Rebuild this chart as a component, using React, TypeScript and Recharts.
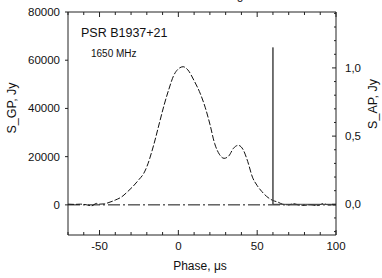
import React from 'react';
import { LineChart, Line, XAxis, YAxis, ReferenceLine } from 'recharts';

// giant pulse profile, phase in microseconds vs flux (Jy)
const gpPhase = [
  -70, -66, -62, -58, -55, -52, -50, -47, -44, -40, -36, -32, -29, -25, -22, -20,
  -16, -12, -9, -6, -3, 0, 3, 6, 10, 14, 17, 20, 23, 26, 29, 32, 35, 38, 41, 44,
  47, 50, 53, 56, 60, 63, 66, 70, 73, 76, 80, 84, 88, 92, 95, 100,
];
const gpFlux = [
  300, 200, 300, 0, -400, 600, 300, 400, 1000, 2000, 3300, 5600, 7500, 10500, 13000, 15800,
  24000, 34000, 41500, 48000, 53600, 56400, 57300, 56000, 51500, 46000, 40500, 33500, 25500, 21000, 19300, 20300, 23500, 24700, 23000, 18000,
  11500, 8000, 5500, 3500, 1800, 1200, 300, 0, 500, 0, -200, 100, -300, 500, 0, 0,
];

// average profile: narrow spike at 60 us, then flat
const apPhase = [60, 60, 60, 100];
const apFlux = [0, 1.15, 0, 0];

const phaseTicks = [-70, -60, -50, -40, -30, -20, -10, 0, 10, 20, 30, 40, 50, 60, 70, 80, 90, 100];
const phaseLabels = [-50, 0, 50, 100];
const gpTicks = [0, 20000, 40000, 60000, 80000];
const apTicks = [-0.2, -0.1, 0, 0.1, 0.2, 0.3, 0.4, 0.5, 0.6, 0.7, 0.8, 0.9, 1.0, 1.1, 1.2, 1.3, 1.4];
const apLabels = [0, 0.5, 1.0];

const gpData = gpPhase.map((p, i) => ({ phase: p, gp: gpFlux[i] }));
const apData = apPhase.map((p, i) => ({ phase: p, ap: apFlux[i] }));

const AXIS = '#222';
const FONT = '"Liberation Sans", Arial, sans-serif';

const BottomTick = (props: any) => {
  const { x, y, payload } = props;
  const major = phaseLabels.includes(payload.value);
  return (
    <g>
      <line x1={x} x2={x} y1={y} y2={y - (major ? 5 : 3)} stroke={AXIS} />
      {major && (
        <text x={x} y={y + 15} textAnchor="middle" fontSize={11.5} fontFamily={FONT} fill="#111">
          {payload.value}
        </text>
      )}
    </g>
  );
};

const TopTick = (props: any) => {
  const { x, y, payload } = props;
  const major = phaseLabels.includes(payload.value);
  return <line x1={x} x2={x} y1={y} y2={y + (major ? 5 : 3)} stroke={AXIS} />;
};

const LeftTick = (props: any) => {
  const { x, y, payload } = props;
  return (
    <g>
      <line x1={x} x2={x - 3} y1={y} y2={y} stroke={AXIS} />
      <text x={x - 8} y={y + 4} textAnchor="end" fontSize={11.5} fontFamily={FONT} fill="#111">
        {payload.value}
      </text>
    </g>
  );
};

const RightTick = (props: any) => {
  const { x, y, payload } = props;
  const major = apLabels.some(v => Math.abs(v - payload.value) < 1e-6);
  return (
    <g>
      <line x1={x} x2={x - (major ? 4 : 2)} y1={y} y2={y} stroke={AXIS} />
      {major && (
        <text x={x + 9} y={y + 4} textAnchor="start" fontSize={11.5} fontFamily={FONT} fill="#111">
          {payload.value.toFixed(1).replace('.', ',')}
        </text>
      )}
    </g>
  );
};

export default function App() {
  return (
    <div style={{ position: 'absolute', left: 0, top: 0, width: 382, height: 278, background: '#fff' }}>
      <LineChart width={382} height={278} margin={{ top: 0, right: 0, bottom: 0, left: 0 }}>
        <XAxis
          xAxisId="bottom"
          dataKey="phase"
          type="number"
          domain={[-70, 100]}
          allowDataOverflow
          ticks={phaseTicks}
          interval={0}
          height={43}
          tickSize={0}
          tickMargin={0}
          tickLine={false}
          axisLine={{ stroke: AXIS }}
          tick={<BottomTick />}
        />
        <XAxis
          xAxisId="top"
          orientation="top"
          dataKey="phase"
          type="number"
          domain={[-70, 100]}
          allowDataOverflow
          ticks={phaseTicks}
          interval={0}
          height={12}
          tickSize={0}
          tickMargin={0}
          tickLine={false}
          axisLine={{ stroke: AXIS }}
          tick={<TopTick />}
        />
        <YAxis
          yAxisId="left"
          type="number"
          domain={[-12500, 80000]}
          allowDataOverflow
          ticks={gpTicks}
          interval={0}
          width={68}
          tickSize={0}
          tickMargin={0}
          tickLine={false}
          axisLine={{ stroke: AXIS }}
          tick={<LeftTick />}
        />
        <YAxis
          yAxisId="right"
          orientation="right"
          type="number"
          domain={[-0.225, 1.41]}
          allowDataOverflow
          ticks={apTicks}
          interval={0}
          width={46}
          tickSize={0}
          tickMargin={0}
          tickLine={false}
          axisLine={{ stroke: AXIS }}
          tick={<RightTick />}
        />
        <ReferenceLine
          xAxisId="bottom"
          yAxisId="left"
          y={0}
          stroke="#111"
          strokeDasharray="12 3 2 3"
        />
        <Line
          xAxisId="bottom"
          yAxisId="left"
          data={gpData}
          dataKey="gp"
          type="monotone"
          stroke="#111"
          strokeWidth={1}
          strokeDasharray="6 2"
          dot={false}
          activeDot={false}
          isAnimationActive={false}
        />
        <Line
          xAxisId="top"
          yAxisId="right"
          data={apData}
          dataKey="ap"
          type="linear"
          stroke="#444"
          strokeWidth={1}
          dot={false}
          activeDot={false}
          isAnimationActive={false}
        />
      </LineChart>
      <svg
        width={382}
        height={278}
        style={{ position: 'absolute', left: 0, top: 0, pointerEvents: 'none' }}
        fontFamily={FONT}
        fill="#111"
      >
        <text x={240} y={-1} fontSize={12} textAnchor="middle">g</text>
        <text x={81} y={37} fontSize={12.5}>PSR B1937+21</text>
        <text x={91} y={57} fontSize={10}>1650 MHz</text>
        <text x={200} y={270} fontSize={12} textAnchor="middle">Phase, μs</text>
        <text x={16} y={108} fontSize={12.5} textAnchor="middle" transform="rotate(-90 16 108)">S_GP, Jy</text>
        <text x={377} y={104} fontSize={12.5} textAnchor="middle" transform="rotate(-90 377 104)">S_AP, Jy</text>
      </svg>
    </div>
  );
}
